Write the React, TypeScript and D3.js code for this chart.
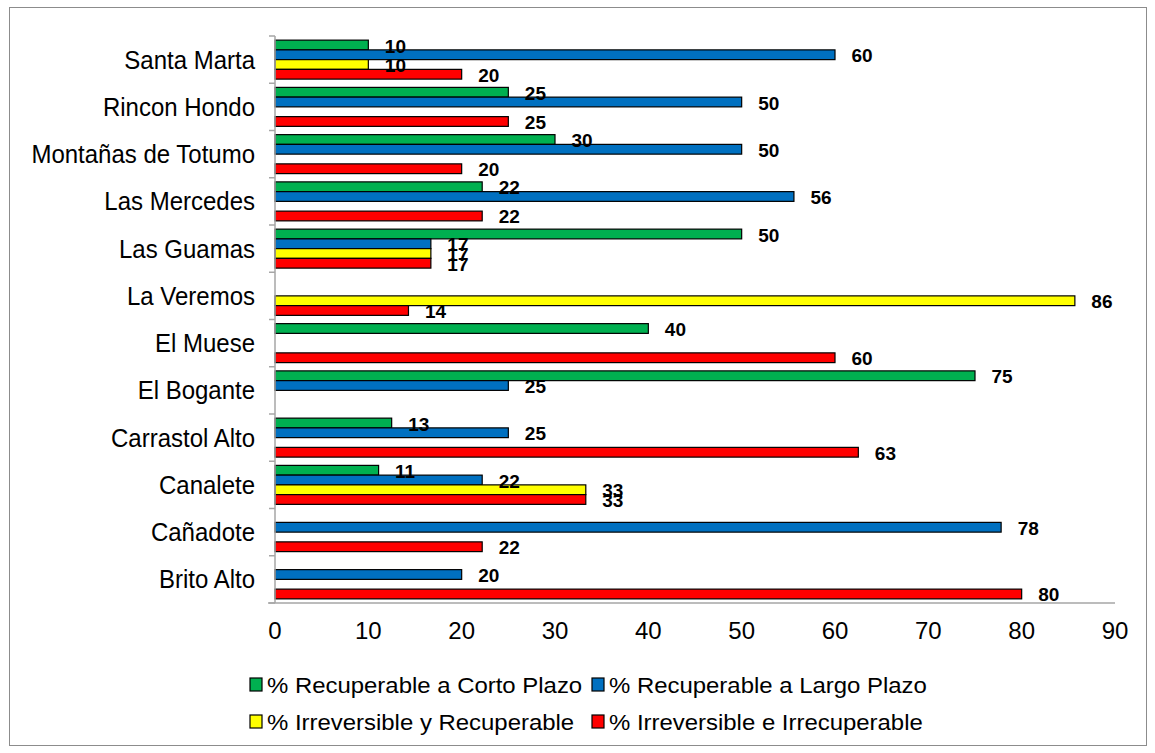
import React from "react";
import * as d3 from "d3";

const categories = [
  "Santa Marta",
  "Rincon Hondo",
  "Montañas de Totumo",
  "Las Mercedes",
  "Las Guamas",
  "La Veremos",
  "El Muese",
  "El Bogante",
  "Carrastol Alto",
  "Canalete",
  "Cañadote",
  "Brito Alto",
];

// null = no bar (blank cell in the source sheet)
const cortoPlazo = [10, 25, 30, 22.2, 50, null, 40, 75, 12.5, 11.1, null, null];
const largoPlazo = [60, 50, 50, 55.6, 16.7, null, null, 25, 25, 22.2, 77.8, 20];
const irrevRecup = [10, null, null, null, 16.7, 85.7, null, null, null, 33.3, null, null];
const irrevIrrec = [20, 25, 20, 22.2, 16.7, 14.3, 60, null, 62.5, 33.3, 22.2, 80];

const seriesNames = [
  "% Recuperable a Corto Plazo",
  "% Recuperable a Largo Plazo",
  "% Irreversible y Recuperable",
  "% Irreversible e Irrecuperable",
];
const seriesColors = ["#00B050", "#0070C0", "#FFFF00", "#FF0000"];

const FONT = "'Liberation Sans', Arial, sans-serif";
const AXIS = "#a6a6a6";

const SText = ({
  x,
  y,
  sx = 1,
  sy = 1,
  children,
  ...rest
}: {
  x: number;
  y: number;
  sx?: number;
  sy?: number;
  children: React.ReactNode;
  [k: string]: any;
}) => (
  <text transform={`translate(${x},${y}) scale(${sx},${sy})`} {...rest}>
    {children}
  </text>
);

const App: React.FC = () => {
  const width = 1155;
  const height = 753;
  const series = [cortoPlazo, largoPlazo, irrevRecup, irrevIrrec];

  const x = d3.scaleLinear().domain([0, 90]).range([275, 1115]);
  const y0 = d3
    .scaleBand<string>()
    .domain(categories)
    .range([36, 603])
    .paddingInner(0.175)
    .paddingOuter(0.0875);
  const y1 = d3
    .scaleBand<number>()
    .domain(d3.range(series.length))
    .range([0, y0.bandwidth()]);

  const fmt = d3.format(".0f");
  const boundaries = d3.range(categories.length + 1).map((i) => 36 + i * y0.step());

  const legendItems = [
    { sx: 250, tx: 267, ty: 693 },
    { sx: 592, tx: 609, ty: 693 },
    { sx: 250, tx: 267, ty: 730 },
    { sx: 592, tx: 609, ty: 730 },
  ];

  return (
    <svg
      width={width}
      height={height}
      style={{ position: "absolute", left: 0, top: 0, background: "#fff" }}
      fontFamily={FONT}
    >
      <rect x={9.5} y={7.5} width={1137} height={738} fill="#fff" stroke="#8c8c8c" />

      {/* bars */}
      {series.map((vals, si) =>
        categories.map((c, ci) => {
          const v = vals[ci];
          if (v == null) return null;
          const by = (y0(c) as number) + (y1(si) as number);
          return (
            <rect
              key={`b-${si}-${ci}`}
              x={x(0)}
              y={by}
              width={x(v) - x(0)}
              height={y1.bandwidth()}
              fill={seriesColors[si]}
              stroke="#000"
              strokeWidth={1.2}
            />
          );
        })
      )}

      {/* axes */}
      <line x1={275} x2={275} y1={36} y2={603} stroke={AXIS} strokeWidth={1.5} />
      {boundaries.map((b, i) => (
        <line key={`t-${i}`} x1={269} x2={275} y1={b} y2={b} stroke={AXIS} strokeWidth={1.5} />
      ))}
      <line x1={268} x2={x(90)} y1={603} y2={603} stroke={AXIS} strokeWidth={1.5} />

      {/* data labels */}
      {series.map((vals, si) =>
        categories.map((c, ci) => {
          const v = vals[ci];
          if (v == null) return null;
          const cy = (y0(c) as number) + (y1(si) as number) + y1.bandwidth() / 2;
          return (
            <text
              key={`l-${si}-${ci}`}
              x={x(v) + 16.5}
              y={cy + 7.5}
              fontSize={19}
              fontWeight="bold"
              fill="#000"
            >
              {fmt(v)}
            </text>
          );
        })
      )}

      {/* category labels */}
      {categories.map((c) => (
        <SText
          key={`c-${c}`}
          x={255}
          y={(y0(c) as number) + y0.bandwidth() / 2 + 9}
          sy={1.05}
          textAnchor="end"
          fontSize={24}
          fill="#000"
        >
          {c}
        </SText>
      ))}

      {/* x tick labels */}
      {x.ticks(9).map((t) => (
        <text key={`x-${t}`} x={x(t)} y={639} textAnchor="middle" fontSize={24} fill="#000">
          {t}
        </text>
      ))}

      {/* legend */}
      {seriesNames.map((n, i) => {
        const p = legendItems[i];
        return (
          <g key={`lg-${i}`}>
            <rect
              x={p.sx}
              y={p.ty - 15}
              width={12}
              height={13}
              fill={seriesColors[i]}
              stroke="#000"
              strokeWidth={1.2}
            />
            <SText x={p.tx} y={p.ty} sx={1.14} sy={1.03} textAnchor="start" fontSize={21} fill="#000">
              {n}
            </SText>
          </g>
        );
      })}
    </svg>
  );
};

export default App;
